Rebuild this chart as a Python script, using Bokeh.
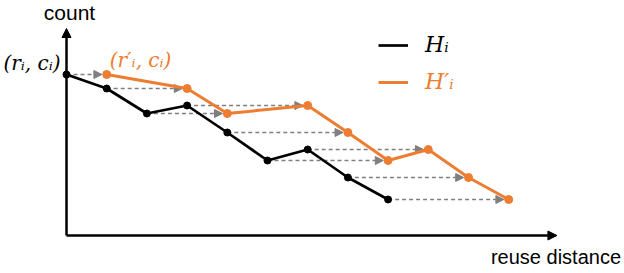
from bokeh.plotting import figure
from bokeh.models import Range1d, Arrow, NormalHead, Label, ColumnDataSource, Legend, LegendItem
from bokeh.embed import file_html
from bokeh.resources import INLINE

# ---- data ----
r_orig = [0, 1, 2, 3, 4, 5, 6, 7, 8]                       # reuse distances of H_i
counts = [16.1, 14.7, 12.2, 13.0, 10.3, 7.5, 8.6, 5.8, 3.6]  # counts c_i
r_new = [1, 3, 4, 6, 7, 8, 9, 10, 11]                      # reuse distances of H'_i
x_axis_end = 12.2
y_axis_end = 20.7

BLACK = "#000000"
ORANGE = "#ED7D31"
GRAY = "#7F7F7F"
MATH_FONT = "DejaVu Serif"
SANS_FONT = "Liberation Sans"

p = figure(width=624, height=273, output_backend="svg", toolbar_location=None,
           x_range=Range1d(-1.642, 13.881), y_range=Range1d(-3.8, 23.5),
           x_axis_type=None, y_axis_type=None, min_border=0,
           outline_line_color=None)
p.grid.visible = False

# axes as arrows
p.add_layout(Arrow(x_start=0, y_start=0, x_end=0, y_end=y_axis_end,
                   line_color=BLACK, line_width=2.5,
                   end=NormalHead(size=9, fill_color=BLACK, line_color=BLACK)))
p.add_layout(Arrow(x_start=0, y_start=0, x_end=x_axis_end, y_end=0,
                   line_color=BLACK, line_width=2.5,
                   end=NormalHead(size=9, fill_color=BLACK, line_color=BLACK)))

# dashed shift arrows
src = ColumnDataSource(dict(x0=r_orig, y=counts, x1=[x - 0.12 for x in r_new]))
p.add_layout(Arrow(source=src, x_start="x0", y_start="y", x_end="x1", y_end="y",
                   line_color=GRAY, line_width=1.5, line_dash="4 3", level="underlay",
                   end=NormalHead(size=8, fill_color=GRAY, line_color=GRAY, line_width=1)))

# series
l_orange = p.line(r_new, counts, line_color=ORANGE, line_width=3)
p.scatter(r_new, counts, size=8, fill_color=ORANGE, line_color=ORANGE)
l_black = p.line(r_orig, counts, line_color=BLACK, line_width=2.7)
p.scatter(r_orig, counts, size=7, fill_color=BLACK, line_color=BLACK)

# legend
for rend, lab, col, loc in [(l_black, "Hᵢ", BLACK, (378, 216)),
                            (l_orange, "H′ᵢ", ORANGE, (378, 179))]:
    lg = Legend(items=[LegendItem(label=lab, renderers=[rend])], location=loc,
                label_text_font=MATH_FONT, label_text_font_style="italic",
                label_text_font_size="22px", label_text_color=col,
                glyph_width=30, glyph_height=20, label_standoff=17,
                padding=0, margin=0, border_line_color=None,
                background_fill_alpha=0)
    p.add_layout(lg)

# annotations
p.add_layout(Label(x=r_orig[0], y=counts[0], x_offset=-6, y_offset=12,
                   text="(rᵢ, cᵢ)", text_align="right", text_baseline="middle",
                   text_font=MATH_FONT, text_font_style="italic",
                   text_font_size="20px", text_color=BLACK))
p.add_layout(Label(x=r_new[0], y=counts[0], x_offset=3, y_offset=15,
                   text="(r′ᵢ, cᵢ)", text_align="left", text_baseline="middle",
                   text_font=MATH_FONT, text_font_style="italic",
                   text_font_size="20px", text_color=ORANGE))
p.add_layout(Label(x=0, y=y_axis_end, x_offset=3, y_offset=16,
                   text="count", text_align="center", text_baseline="alphabetic",
                   text_font=SANS_FONT, text_font_size="21px", text_color=BLACK))
p.add_layout(Label(x=x_axis_end, y=0, x_offset=-66, y_offset=-21,
                   text="reuse distance", text_align="left", text_baseline="alphabetic",
                   text_font=SANS_FONT, text_font_size="20px", text_color=BLACK))

open("out.html", "w").write(file_html(p, INLINE))
